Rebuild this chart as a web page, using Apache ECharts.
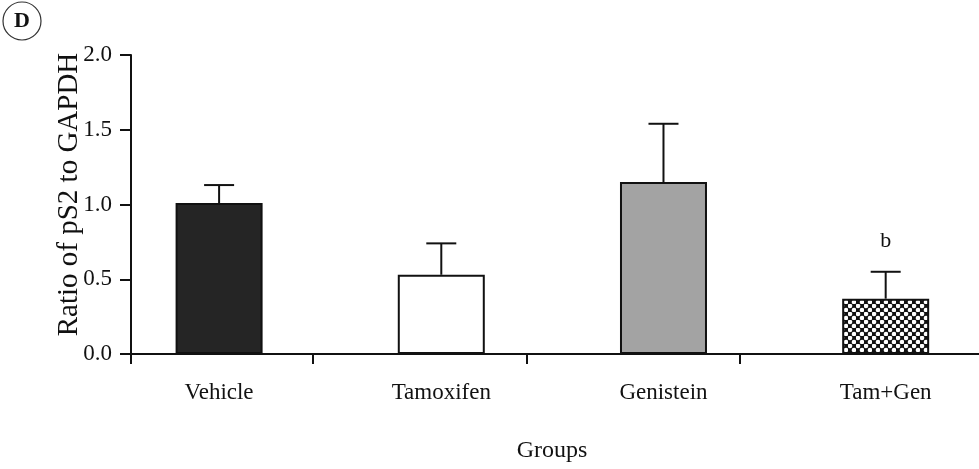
<!DOCTYPE html>
<html>
<head>
<meta charset="utf-8">
<script src="https://cdn.jsdelivr.net/npm/echarts@6/dist/echarts.min.js"></script>
<style>
  html, body { margin: 0; padding: 0; background: #ffffff; }
  #chart { width: 979px; height: 469px; }
</style>
</head>
<body>
<div id="chart"></div>
<script>
// pS2 expression relative to GAPDH, by treatment group (mean and mean + SD)
const groups = ['Vehicle', 'Tamoxifen', 'Genistein', 'Tam+Gen'];
const ratioMean = [1.01, 0.53, 1.15, 0.37];
const ratioUpper = [1.13, 0.74, 1.54, 0.55];
const significance = ['', '', '', 'b'];
const yTicks = ['0.0', '0.5', '1.0', '1.5', '2.0'];

const FONT = 'Liberation Serif, Times New Roman, serif';
const INK = '#111111';

// checkered fill for the combined treatment
function checkerPattern() {
  const c = document.createElement('canvas');
  c.width = 8; c.height = 8;
  const g = c.getContext('2d');
  g.fillStyle = '#111';
  g.fillRect(0, 0, 8, 8);
  g.fillStyle = '#fff';
  g.beginPath(); g.arc(2, 2, 2.3, 0, Math.PI * 2); g.fill();
  g.beginPath(); g.arc(6, 6, 2.3, 0, Math.PI * 2); g.fill();
  return c;
}

const fills = ['#252525', '#ffffff', '#a3a3a3', { image: checkerPattern(), repeat: 'repeat' }];
const groupIndex = groups.map((_, i) => i);

const chart = echarts.init(document.getElementById('chart'), null, { renderer: 'canvas' });

chart.setOption({
  backgroundColor: '#ffffff',
  animation: false,
  grid: [
    // bars: group positions run along a linear scale
    { left: 108, top: 55, right: 0, bottom: 115 },
    // visible axes frame
    { left: 131, top: 55, right: 0, bottom: 115 }
  ],
  xAxis: [
    {
      type: 'value', gridIndex: 0, min: -0.5, max: 3.42,
      axisLine: { show: false }, axisTick: { show: false }, splitLine: { show: false },
      axisLabel: {
        color: INK, fontFamily: FONT, fontSize: 23, margin: 27,
        customValues: groupIndex,
        formatter: (v) => groups[Math.round(v)]
      }
    },
    {
      type: 'value', gridIndex: 1, min: 0, max: 1,
      axisLine: { show: true, lineStyle: { color: INK, width: 2 } },
      axisTick: { show: true, length: 10, lineStyle: { color: INK, width: 2 },
                  customValues: [0, 0.2146, 0.467, 0.718] },
      axisLabel: { show: false }, splitLine: { show: false },
      name: 'Groups', nameLocation: 'middle', nameGap: 85,
      nameTextStyle: { color: INK, fontFamily: FONT, fontSize: 24, padding: [0, 6, 0, 0] }
    }
  ],
  yAxis: [
    { type: 'value', gridIndex: 0, min: 0, max: 2, show: false },
    {
      type: 'value', gridIndex: 1, min: 0, max: 2, interval: 0.5,
      axisLine: { show: true, lineStyle: { color: INK, width: 2 } },
      axisTick: { show: true, length: 11, lineStyle: { color: INK, width: 2 } },
      axisLabel: {
        color: INK, fontFamily: FONT, fontSize: 23, margin: 19,
        formatter: (v) => yTicks[Math.round(v / 0.5)]
      },
      splitLine: { show: false },
      name: 'Ratio of pS2 to GAPDH', nameLocation: 'middle', nameGap: 47,
      nameMoveOverlap: false,
      nameTextStyle: { color: INK, fontFamily: FONT, fontSize: 29, padding: [0, 0, 0, 20] }
    }
  ],
  graphic: [
    { type: 'circle', shape: { cx: 22, cy: 21, r: 19 },
      style: { fill: 'none', stroke: '#333', lineWidth: 1.2 } },
    { type: 'text', x: 22, y: 21,
      style: { text: 'D', fontFamily: FONT, fontWeight: 'bold', fontSize: 22,
               fill: INK, align: 'center', verticalAlign: 'middle' } }
  ],
  series: [
    {
      type: 'bar', xAxisIndex: 0, yAxisIndex: 0, barWidth: 87,
      data: ratioMean.map((v, i) => ({
        value: [i, v],
        itemStyle: { color: fills[i], borderColor: INK, borderWidth: 2 }
      }))
    },
    {
      type: 'custom', xAxisIndex: 0, yAxisIndex: 0, z: 3,
      data: ratioMean.map((v, i) => [i, v, ratioUpper[i]]),
      renderItem: (params, api) => {
        const i = api.value(0);
        const top = api.coord([i, api.value(1)]);
        const hi = api.coord([i, api.value(2)]);
        const half = 15;
        const children = [
          { type: 'line', shape: { x1: top[0], y1: top[1], x2: hi[0], y2: hi[1] },
            style: { stroke: INK, lineWidth: 2 } },
          { type: 'line', shape: { x1: hi[0] - half, y1: hi[1], x2: hi[0] + half, y2: hi[1] },
            style: { stroke: INK, lineWidth: 2 } }
        ];
        const note = significance[params.dataIndex];
        if (note) {
          children.push({ type: 'text', x: hi[0], y: hi[1] - 31,
            style: { text: note, fontFamily: FONT, fontSize: 22, fill: INK,
                     align: 'center', verticalAlign: 'middle' } });
        }
        return { type: 'group', children };
      }
    }
  ]
});
</script>
</body>
</html>
